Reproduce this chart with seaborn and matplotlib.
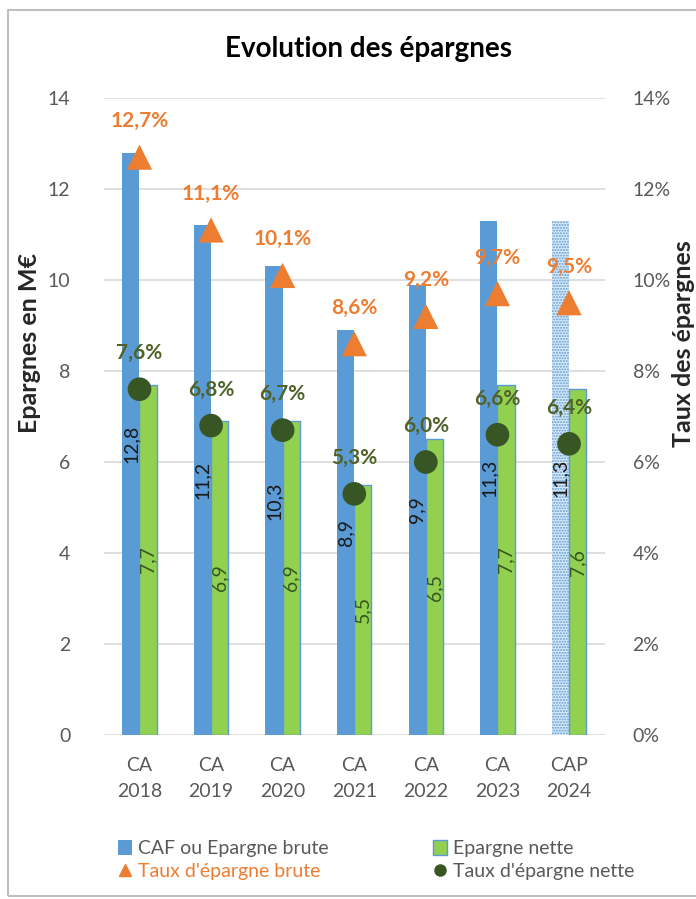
import numpy as np
import pandas as pd
import seaborn as sns
import matplotlib.pyplot as plt
from matplotlib.patches import Rectangle
from matplotlib.lines import Line2D
from matplotlib.patches import Patch

categories = ["CA\n2018", "CA\n2019", "CA\n2020", "CA\n2021", "CA\n2022", "CA\n2023", "CAP\n2024"]
epargne_brute = [12.8, 11.2, 10.3, 8.9, 9.9, 11.3, 11.3]
epargne_nette = [7.7, 6.9, 6.9, 5.5, 6.5, 7.7, 7.6]
taux_brute = [12.7, 11.1, 10.1, 8.6, 9.2, 9.7, 9.5]
taux_nette = [7.6, 6.8, 6.7, 5.3, 6.0, 6.6, 6.4]

BLUE = "#5B9BD5"
GREEN = "#92D050"
ORANGE = "#ED7D31"
DKGREEN = "#375623"
GREY = "#595959"

df = pd.DataFrame({
    "cat": categories * 2,
    "val": epargne_brute + epargne_nette,
    "serie": ["CAF ou Epargne brute"] * 7 + ["Epargne nette"] * 7,
})

sns.set_theme(style="white")
plt.rcParams['font.family'] = ['Lato', 'DejaVu Sans']

fig = plt.figure(figsize=(6.96, 8.99), dpi=100)
ax = fig.add_axes([0.149, 0.1824, 0.72, 0.7086])

sns.barplot(data=df, x="cat", y="val", hue="serie", palette=[BLUE, GREEN],
            width=0.48, ax=ax, legend=False, saturation=1)

n = len(categories)
for i, p in enumerate(ax.patches[:2 * n]):
    p.set_linewidth(0)
    if i >= n:
        p.set_edgecolor(BLUE)
        p.set_linewidth(1.0)
# last blue bar: projected, dotted fill
p = ax.patches[n - 1]
p.set_facecolor("#DDEBF7")
p.set_edgecolor(BLUE)
p.set_hatch("......")
p.set_linewidth(0)

# bar value labels, rotated, centred in bars
for i, p in enumerate(ax.patches[:2 * n]):
    v = p.get_height()
    col = "#1A1A1A" if i < n else DKGREEN
    ax.text(p.get_x() + p.get_width() / 2, v / 2, f"{v:.1f}".replace(".", ","),
            rotation=90, ha="center", va="center", fontsize=14, color=col)

ax.set_ylim(0, 14)
ax.set_xlim(-0.5, n - 0.5)
ax.set_yticks(range(0, 15, 2))
ax.grid(axis="y", color="#D9D9D9", linewidth=1.2)
ax.set_axisbelow(True)
for s in ax.spines.values():
    s.set_visible(False)
ax.tick_params(axis="y", labelsize=14, labelcolor=GREY, pad=24, length=0)
ax.tick_params(axis="x", labelsize=14, labelcolor=GREY, pad=16, length=0)
for lab in ax.get_xticklabels():
    lab.set_linespacing(1.6)
ax.set_xlabel("")
ax.set_ylabel("Epargnes en M€", fontsize=18, fontweight="bold", color="#262626")
ax.yaxis.set_label_coords(-0.125, 0.615)

ax2 = ax.twinx()
xs = np.arange(n)
sns.scatterplot(x=xs, y=taux_brute, marker="^", s=330, color=ORANGE,
                edgecolor="none", ax=ax2)
sns.scatterplot(x=xs, y=taux_nette, marker="o", s=290, color=DKGREEN,
                edgecolor="none", ax=ax2)
for x, t in zip(xs, taux_brute):
    ax2.annotate(f"{t:.1f}%".replace(".", ","), (x, t), xytext=(0, 26),
                 textcoords="offset points", ha="center", va="center",
                 fontsize=15, fontweight="bold", color=ORANGE)
for x, t in zip(xs, taux_nette):
    ax2.annotate(f"{t:.1f}%".replace(".", ","), (x, t), xytext=(0, 26),
                 textcoords="offset points", ha="center", va="center",
                 fontsize=15, fontweight="bold", color="#4F6228")
ax2.set_ylim(0, 14)
ax2.set_yticks(range(0, 15, 2))
ax2.set_yticklabels([f"{v}%" for v in range(0, 15, 2)])
for s in ax2.spines.values():
    s.set_visible(False)
ax2.tick_params(axis="y", labelsize=14, labelcolor=GREY, pad=20, length=0)
ax2.set_ylabel("Taux des épargnes", fontsize=18, fontweight="bold", color="#262626")
ax2.yaxis.set_label_coords(1.134, 0.615)
ax2.grid(False)

fig.text(0.53, 0.946, "Evolution des épargnes", ha="center", va="center",
         fontsize=20, fontweight="bold", color="#000000")

handles = [
    Patch(facecolor=BLUE, edgecolor="none"),
    Line2D([], [], marker="^", color=ORANGE, linestyle="none", markersize=9),
    Patch(facecolor=GREEN, edgecolor=BLUE, linewidth=1),
    Line2D([], [], marker="o", color=DKGREEN, linestyle="none", markersize=8),
]
labels = ["CAF ou Epargne brute", "Taux d'épargne brute", "Epargne nette", "Taux d'épargne nette"]
leg = fig.legend(handles, labels, ncol=2, loc="center left", bbox_to_anchor=(0.145, 0.0434),
                 frameon=False, fontsize=14, handlelength=0.7, handleheight=0.8,
                 handletextpad=0.3, columnspacing=5.4, labelspacing=0.3)
for t in leg.get_texts():
    t.set_color(GREY)
leg.get_texts()[1].set_color(ORANGE)

fig.patches.append(Rectangle((8 / 696, 1 - 896 / 899), 700 / 696, 886 / 899,
                             transform=fig.transFigure, fill=False,
                             edgecolor="#BFBFBF", linewidth=1.5))

fig.savefig("out.png", dpi=100)
